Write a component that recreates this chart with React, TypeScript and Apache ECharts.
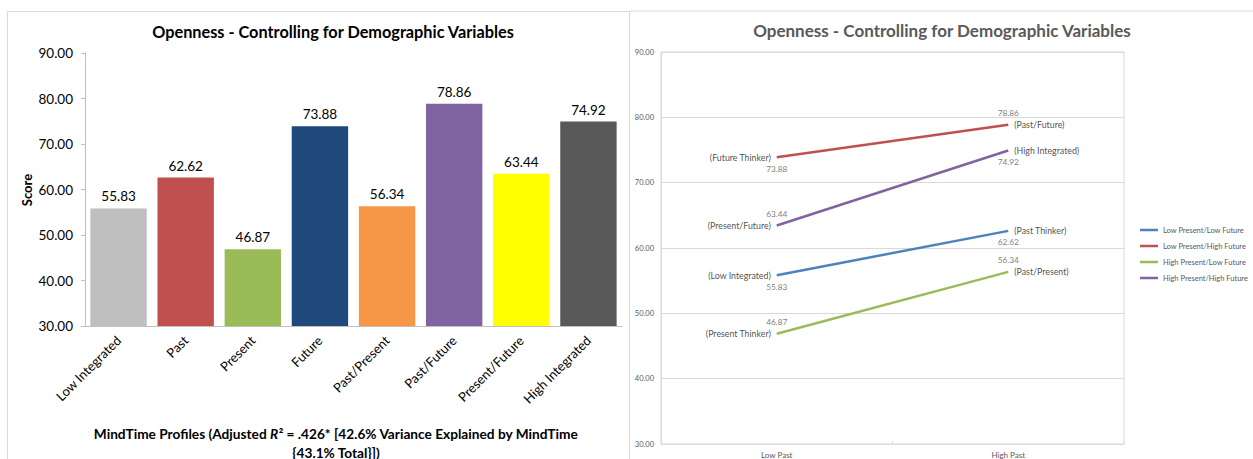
import React, { useEffect, useRef } from "react";
import * as echarts from "echarts";

// Bar chart: openness score for each MindTime profile
const profileCategories = [
  "Low Integrated",
  "Past",
  "Present",
  "Future",
  "Past/Present",
  "Past/Future",
  "Present/Future",
  "High Integrated",
];
const profileScores = [55.83, 62.62, 46.87, 73.88, 56.34, 78.86, 63.44, 74.92];
const profileColors = [
  "#BFBFBF",
  "#C0504D",
  "#9BBB59",
  "#1F497D",
  "#F79646",
  "#8064A2",
  "#FFFF00",
  "#595959",
];

// Line chart: Low Past vs High Past for each Present/Future combination
const pastLevels = ["Low Past", "High Past"];
const lineNames = [
  "Low Present/Low Future",
  "Low Present/High Future",
  "High Present/Low Future",
  "High Present/High Future",
];
const lowPresentLowFuture = [55.83, 62.62];
const lowPresentHighFuture = [73.88, 78.86];
const highPresentLowFuture = [46.87, 56.34];
const highPresentHighFuture = [63.44, 74.92];
const lineValues = [
  lowPresentLowFuture,
  lowPresentHighFuture,
  highPresentLowFuture,
  highPresentHighFuture,
];
const lineProfiles = [
  ["(Low Integrated)", "(Past Thinker)"],
  ["(Future Thinker)", "(Past/Future)"],
  ["(Present Thinker)", "(Past/Present)"],
  ["(Present/Future)", "(High Integrated)"],
];
const lineColors = ["#4F81BD", "#C0504D", "#9BBB59", "#8064A2"];
// where each point's value sits relative to its point
const valueLabelSide = [
  ["bottom", "bottom"],
  ["bottom", "top"],
  ["top", "top"],
  ["top", "bottom"],
];

const scoreTicks = { min: 30, max: 90, interval: 10 };
const chartTitle = "Openness - Controlling for Demographic Variables";

const FONT = "Lato, 'Open Sans', sans-serif";

export default function App() {
  const ref = useRef<HTMLDivElement>(null);

  useEffect(() => {
    if (!ref.current) return;
    const chart = echarts.init(ref.current, null, { renderer: "svg" });

    const lineSeries = lineValues.map((vals, s) => ({
      name: lineNames[s],
      type: "line",
      xAxisIndex: 1,
      yAxisIndex: 1,
      symbol: "none",
      silent: true,
      color: lineColors[s],
      lineStyle: { width: 2.5, color: lineColors[s] },
      data: vals,
    }));

    // invisible point markers that carry each point's value label
    const valueSeries = lineValues.map((vals, s) => ({
      name: "value-" + s,
      type: "scatter",
      xAxisIndex: 1,
      yAxisIndex: 1,
      symbolSize: 0,
      silent: true,
      itemStyle: { color: "transparent" },
      data: vals.map((v, i) => ({
        value: v,
        label: {
          show: true,
          position: valueLabelSide[s][i],
          distance: 7.5,
          formatter: () => v.toFixed(2),
          fontFamily: FONT,
          fontSize: 8.3,
          color: "#595959",
        },
      })),
    }));

    // invisible point markers that carry each point's profile name
    const nameSeries = lineValues.map((vals, s) => ({
      name: "profile-" + s,
      type: "scatter",
      xAxisIndex: 1,
      yAxisIndex: 1,
      symbolSize: 0,
      silent: true,
      itemStyle: { color: "transparent" },
      data: vals.map((v, i) => ({
        value: v,
        label: {
          show: true,
          position: i === 0 ? "left" : "right",
          distance: 6,
          formatter: () => lineProfiles[s][i],
          fontFamily: FONT,
          fontSize: 8.8,
          color: "#1a1a1a",
        },
      })),
    }));

    const option: any = {
      animation: false,
      backgroundColor: "#ffffff",
      textStyle: { fontFamily: FONT },
      grid: [
        { left: 85, top: 53, width: 537, height: 273, outerBoundsMode: "none" },
        {
          left: 661,
          top: 52,
          width: 463,
          height: 392,
          show: true,
          borderColor: "#d9d9d9",
          borderWidth: 1,
          outerBoundsMode: "none",
        },
      ],
      xAxis: [
        {
          type: "category",
          gridIndex: 0,
          data: profileCategories,
          axisLine: { show: true, lineStyle: { color: "#bfbfbf" } },
          axisTick: { show: false },
          axisLabel: {
            interval: 0,
            rotate: 45,
            margin: 12,
            fontFamily: FONT,
            fontSize: 13,
            color: "#000",
          },
        },
        {
          type: "category",
          gridIndex: 1,
          data: pastLevels,
          boundaryGap: true,
          axisLine: { show: true, lineStyle: { color: "#d9d9d9" } },
          axisTick: { show: true, inside: true, length: 3, lineStyle: { color: "#d9d9d9" } },
          axisLabel: { margin: 7, fontFamily: FONT, fontSize: 8, color: "#595959" },
        },
      ],
      yAxis: [
        {
          type: "value",
          gridIndex: 0,
          ...scoreTicks,
          axisLine: { show: true, lineStyle: { color: "#bfbfbf" } },
          axisTick: { show: true, length: 4, lineStyle: { color: "#bfbfbf" } },
          splitLine: { show: false },
          axisLabel: {
            margin: 12,
            formatter: (v: number) => v.toFixed(2),
            fontFamily: FONT,
            fontSize: 13.5,
            color: "#000",
          },
        },
        {
          type: "value",
          gridIndex: 1,
          ...scoreTicks,
          axisLine: { show: true, lineStyle: { color: "#d9d9d9" } },
          axisTick: { show: false },
          splitLine: { show: true, lineStyle: { color: "#d9d9d9" } },
          axisLabel: {
            margin: 7,
            formatter: (v: number) => v.toFixed(2),
            fontFamily: FONT,
            fontSize: 7.5,
            color: "#595959",
          },
        },
      ],
      legend: {
        data: lineNames,
        orient: "vertical",
        left: 1140,
        top: 225,
        padding: 0,
        itemGap: 6,
        itemWidth: 18,
        itemHeight: 2.5,
        icon: "rect",
        selectedMode: false,
        textStyle: { fontFamily: FONT, fontSize: 7.5, color: "#595959", lineHeight: 10 },
      },
      series: [
        {
          type: "bar",
          xAxisIndex: 0,
          yAxisIndex: 0,
          barCategoryGap: "16%",
          silent: true,
          data: profileScores.map((v, i) => ({
            value: v,
            itemStyle: { color: profileColors[i] },
          })),
          label: {
            show: true,
            position: "top",
            distance: 5,
            formatter: (p: any) => Number(p.value).toFixed(2),
            fontFamily: FONT,
            fontSize: 13.5,
            color: "#000",
          },
        },
        ...lineSeries,
        ...valueSeries,
        ...nameSeries,
      ],
      graphic: [
        // panel frames
        { type: "line", shape: { x1: 7.5, y1: 11.5, x2: 629, y2: 11.5 }, style: { stroke: "#d9d9d9", lineWidth: 1 } },
        { type: "line", shape: { x1: 7.5, y1: 11.5, x2: 7.5, y2: 459 }, style: { stroke: "#d9d9d9", lineWidth: 1 } },
        { type: "line", shape: { x1: 629.5, y1: 11, x2: 629.5, y2: 459 }, style: { stroke: "#d9d9d9", lineWidth: 1 } },
        { type: "line", shape: { x1: 629.5, y1: 11, x2: 1253, y2: 11 }, style: { stroke: "#d9d9d9", lineWidth: 1 } },
        {
          type: "text",
          x: 333,
          y: 31,
          style: {
            text: chartTitle,
            align: "center",
            verticalAlign: "middle",
            fontFamily: FONT,
            fontWeight: "bold",
            fontSize: 16.3,
            fill: "#000",
          },
        },
        {
          type: "text",
          x: 942,
          y: 30,
          style: {
            text: chartTitle,
            align: "center",
            verticalAlign: "middle",
            fontFamily: FONT,
            fontWeight: "bold",
            fontSize: 17,
            fill: "#595959",
          },
        },
        {
          type: "text",
          x: 27,
          y: 190,
          rotation: Math.PI / 2,
          style: {
            text: "Score",
            align: "center",
            verticalAlign: "middle",
            fontFamily: FONT,
            fontWeight: "bold",
            fontSize: 13,
            fill: "#000",
          },
        },
        {
          type: "text",
          x: 336,
          y: 433,
          style: {
            text: "MindTime Profiles (Adjusted {i|R}² = .426* [42.6% Variance Explained by MindTime",
            align: "center",
            verticalAlign: "middle",
            fontFamily: FONT,
            fontWeight: "bold",
            fontSize: 13.7,
            fill: "#000",
            rich: {
              i: {
                fontFamily: FONT,
                fontWeight: "bold",
                fontStyle: "italic",
                fontSize: 13.7,
                fill: "#000",
              },
            },
          },
        },
        {
          type: "text",
          x: 336,
          y: 452,
          style: {
            text: "{43.1% Total}])",
            align: "center",
            verticalAlign: "middle",
            fontFamily: FONT,
            fontWeight: "bold",
            fontSize: 13.7,
            fill: "#000",
          },
        },
      ],
    };

    chart.setOption(option);
    return () => chart.dispose();
  }, []);

  return (
    <div
      ref={ref}
      style={{
        position: "fixed",
        left: 0,
        top: 0,
        width: 1253,
        height: 459,
        background: "#fff",
      }}
    />
  );
}
